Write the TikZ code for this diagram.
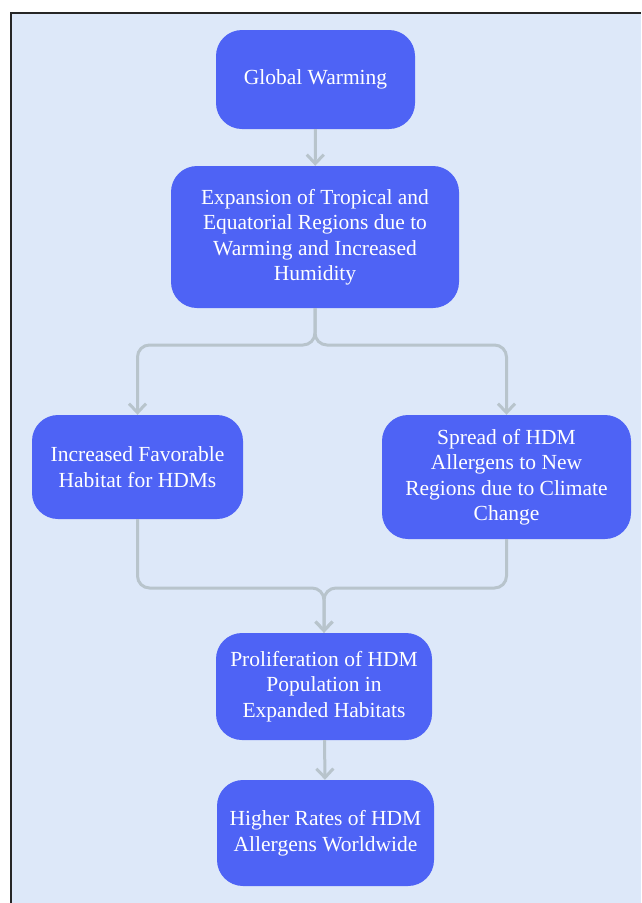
\documentclass[tikz,border=0pt]{standalone}
\usepackage{fontspec}
\setmainfont{Liberation Serif}
\usetikzlibrary{arrows.meta}
\definecolor{boxblue}{RGB}{78,99,245}
\definecolor{paleback}{RGB}{221,232,249}
\definecolor{linkgray}{RGB}{184,196,204}

\begin{document}
\begin{tikzpicture}[x=1pt,y=-1pt]
        \tikzstyle{box}=[shape=rectangle,rounded corners=26pt,fill=boxblue,text=white,align=center,font=\rmfamily\fontsize{21.5}{25.5}\selectfont,inner sep=0pt]
        \tikzstyle{link}=[draw=linkgray,line width=3pt,rounded corners=12pt,-{Straight Barb[length=9pt,width=17pt]}]

            \useasboundingbox (0,0) rectangle (641,903);
            \fill[white] (0,0) rectangle (641,903);
            \fill[paleback] (11,13) rectangle (641,903);
            \draw[line width=2.5pt,color=black!85] (11,903) -- (11,13) -- (641,13);

            \node[box,minimum width=199pt,minimum height=99pt] (gw) at (315.5,79.5) {Global Warming};
            \node[box,minimum width=288pt,minimum height=142pt] (exp) at (315,237) {Expansion of Tropical and\\Equatorial Regions due to\\Warming and Increased\\Humidity};
            \node[box,minimum width=211pt,minimum height=104pt] (fav) at (137.5,467) {Increased Favorable\\Habitat for HDMs};
            \node[box,minimum width=249pt,minimum height=124pt] (spr) at (506.5,477) {Spread of HDM\\Allergens to New\\Regions due to Climate\\Change};
            \node[box,minimum width=216pt,minimum height=107pt] (pro) at (324,686.5) {Proliferation of HDM\\Population in\\Expanded Habitats};
            \node[box,minimum width=217pt,minimum height=106pt] (hr) at (325.5,833) {Higher Rates of HDM\\Allergens Worldwide};

            \coordinate (split) at (315,345);
            \coordinate (join) at (324,588);

            \draw[link] (gw) -- (exp);
            \draw[link] (exp.south) -- (split) -| (fav.north);
            \draw[link] (exp.south) -- (split) -| (spr.north);
            \draw[link] (fav.south) |- (join) -- (pro.north);
            \draw[link] (spr.south) |- (join) -- (pro.north);
            \draw[link] (pro) -- (hr);
        \end{tikzpicture}
\end{document}
